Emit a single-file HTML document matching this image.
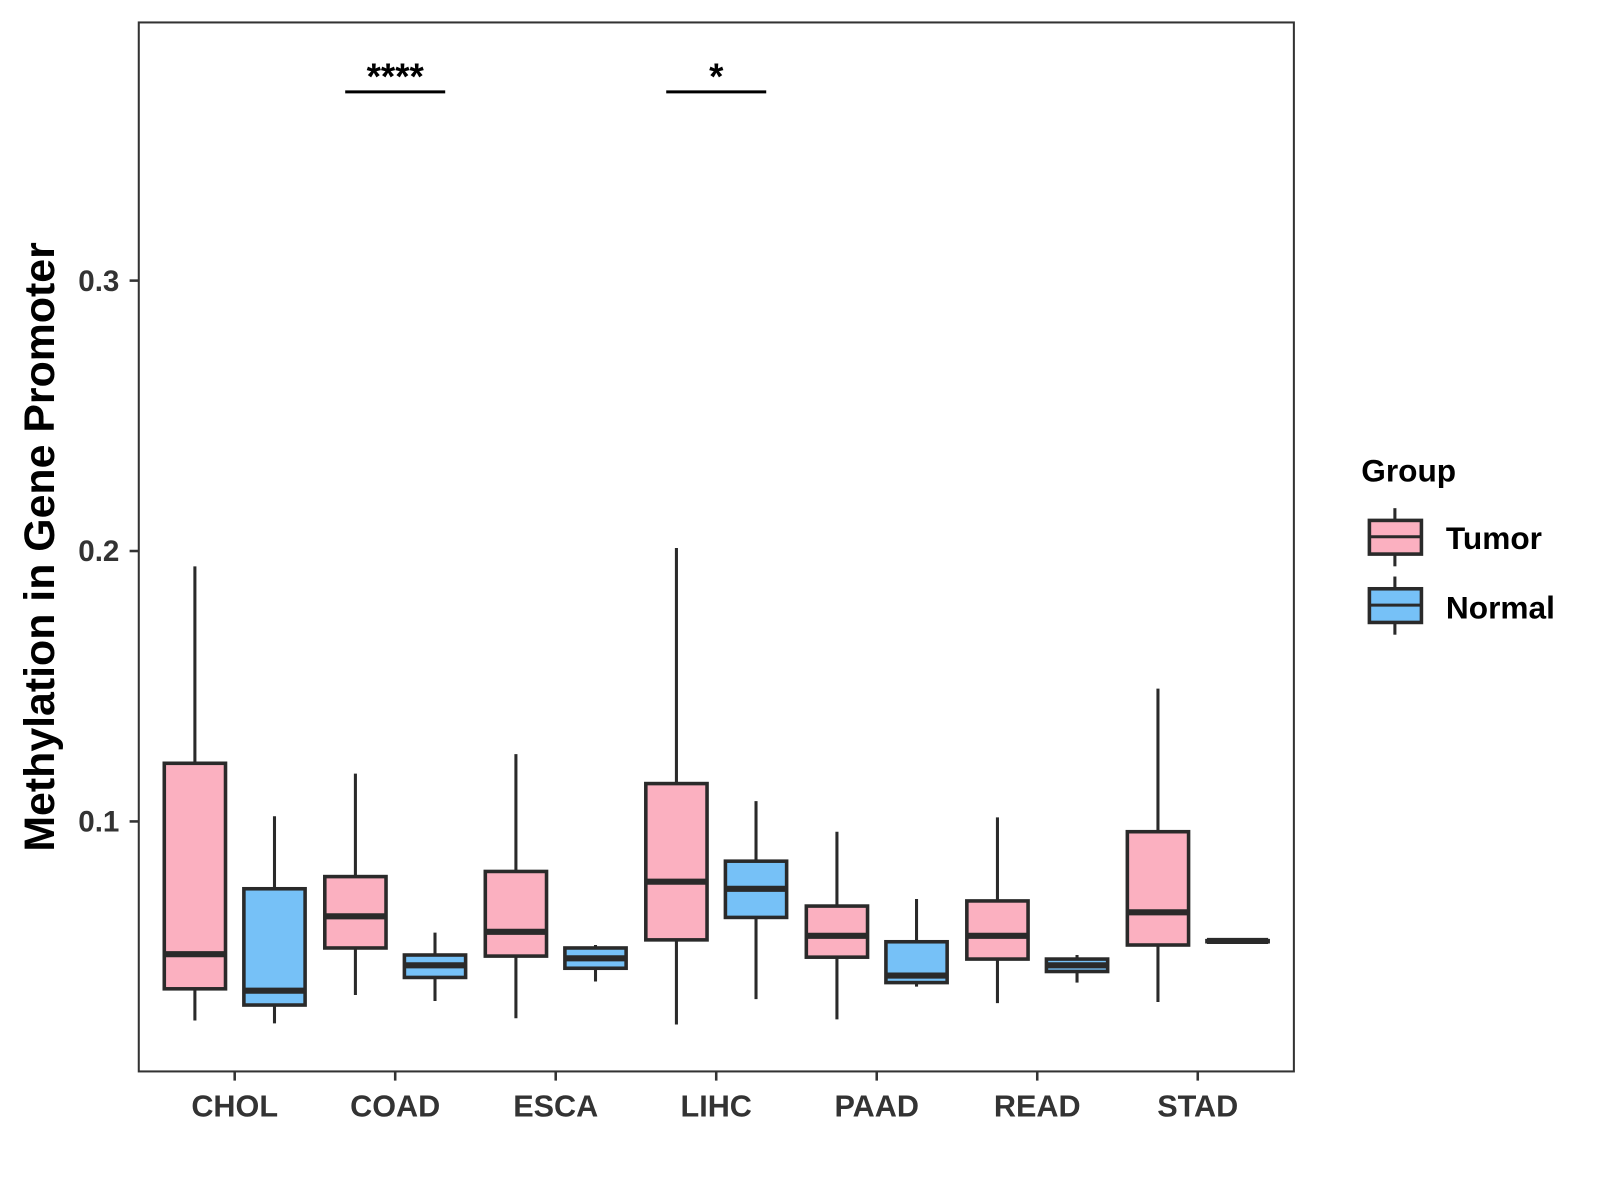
<!DOCTYPE html>
<html><head><meta charset="utf-8"><style>
html,body{margin:0;padding:0;background:#fff;}
svg{display:block;font-family:"Liberation Sans",sans-serif;}
</style></head><body>
<svg id="chart" width="1600" height="1200" viewBox="0 0 1568 1176" preserveAspectRatio="none" xmlns="http://www.w3.org/2000/svg">
<rect x="0" y="0" width="1568" height="1176" fill="#fff"/>
<g id="marks"></g>
<rect x="136" y="22" width="1132" height="1028" fill="none" stroke="#333" stroke-width="2"/>
<g id="axes"></g>
<text transform="translate(53,536) rotate(-90)" text-anchor="middle" font-size="42" font-weight="bold" fill="#000">Methylation in Gene Promoter</text>
<g>
<text x="1334" y="472" font-size="31" font-weight="bold" fill="#000">Group</text>
<g>
<line x1="1367" y1="498" x2="1367" y2="555" stroke="#2a2a2a" stroke-width="3"/>
<rect x="1342" y="510" width="51" height="33" fill="#FBB0C0" stroke="#2a2a2a" stroke-width="3.5"/>
<line x1="1342" y1="526" x2="1393" y2="526" stroke="#2a2a2a" stroke-width="3"/>
<text x="1417" y="538" font-size="31" font-weight="bold" fill="#000">Tumor</text>
</g>
<g>
<line x1="1367" y1="565" x2="1367" y2="622" stroke="#2a2a2a" stroke-width="3"/>
<rect x="1342" y="577" width="51" height="33" fill="#76C1F7" stroke="#2a2a2a" stroke-width="3.5"/>
<line x1="1342" y1="593" x2="1393" y2="593" stroke="#2a2a2a" stroke-width="3"/>
<text x="1417" y="606" font-size="31" font-weight="bold" fill="#000">Normal</text>
</g>
</g>
</svg>
<script>
const categories = ["CHOL","COAD","ESCA","LIHC","PAAD","READ","STAD"];
const groups = ["Tumor","Normal"];
// [low, Q1, median, Q3, high]
const tumorStats = [
 [0.0264,0.0381,0.0509,0.1215,0.1943],
 [0.0358,0.0532,0.0649,0.0796,0.1177],
 [0.0272,0.0502,0.0592,0.0815,0.1249],
 [0.0249,0.0562,0.0777,0.1140,0.2011],
 [0.0268,0.0498,0.0577,0.0687,0.0962],
 [0.0328,0.0491,0.0577,0.0706,0.1015],
 [0.0332,0.0543,0.0664,0.0962,0.1491]
];
const normalStats = [
 [0.0253,0.0321,0.0374,0.0751,0.1019],
 [0.0336,0.0423,0.0468,0.0506,0.0589],
 [0.0408,0.0457,0.0494,0.0532,0.0543],
 [0.0343,0.0645,0.0751,0.0853,0.1075],
 [0.0389,0.0404,0.0430,0.0555,0.0713],
 [0.0404,0.0445,0.0468,0.0491,0.0506],
 [0.0556,0.0557,0.0558,0.0559,0.0560]
];
const yTicks = [0.1,0.2,0.3];
const sigCategories = ["COAD","LIHC"];
const sigLabels = ["****","*"];
const sigLevel = 0.3698;

const NS="http://www.w3.org/2000/svg";
const yScale = v => 805 - (v-0.1)*2650;
const xScale = c => 230 + categories.indexOf(c)*157.3;
const colors = {Tumor:"#FBB0C0", Normal:"#76C1F7"};
const stroke="#2a2a2a";
function mk(tag, attrs, parent){const e=document.createElementNS(NS,tag);for(const k in attrs)e.setAttribute(k,attrs[k]);parent.appendChild(e);return e;}
const marks=document.getElementById('marks');
const axes=document.getElementById('axes');
const bw=60;
categories.forEach((c,i)=>{
 [["Tumor",tumorStats[i],-39],["Normal",normalStats[i],39]].forEach(([g,s,off])=>{
  const cx=xScale(c)+off;
  const grp=mk('g',{},marks);
  
  
  mk('line',{x1:cx,x2:cx,y1:yScale(s[4]),y2:yScale(s[0]),stroke:stroke,'stroke-width':3},grp);
  mk('rect',{x:cx-bw/2,y:yScale(s[3]),width:bw,height:Math.max(yScale(s[1])-yScale(s[3]),1),fill:colors[g],stroke:stroke,'stroke-width':3.5},grp);
  mk('line',{x1:cx-bw/2,x2:cx+bw/2,y1:yScale(s[2]),y2:yScale(s[2]),stroke:stroke,'stroke-width':6},grp);
 });
 const tk=mk('line',{x1:xScale(c),x2:xScale(c),y1:1050,y2:1059,stroke:"#333",'stroke-width':2.5},axes);
 
 
 const t=mk('text',{x:xScale(c),y:1094,'text-anchor':'middle','font-size':30,'font-weight':'bold',fill:'#333'},axes);
 
 
 t.textContent=c;
});
yTicks.forEach(v=>{
 const tk=mk('line',{x1:127,x2:136,y1:yScale(v),y2:yScale(v),stroke:"#333",'stroke-width':2.5},axes);
 
 
 const t=mk('text',{x:117,y:yScale(v)+10,'text-anchor':'end','font-size':29,'font-weight':'bold',fill:'#333'},axes);
 
 
 t.textContent=v.toFixed(1);
});
sigCategories.forEach((c,i)=>{
 const x=xScale(c), y=yScale(sigLevel);
 const l=mk('line',{x1:x-49,x2:x+49,y1:y,y2:y,stroke:"#000",'stroke-width':3},marks);
 
 
 const t=mk('text',{x:x,y:y-3,'text-anchor':'middle','font-size':36,'font-weight':'bold',fill:'#000'},marks);
 
 
 t.textContent=sigLabels[i];
});
</script>
</body></html>
